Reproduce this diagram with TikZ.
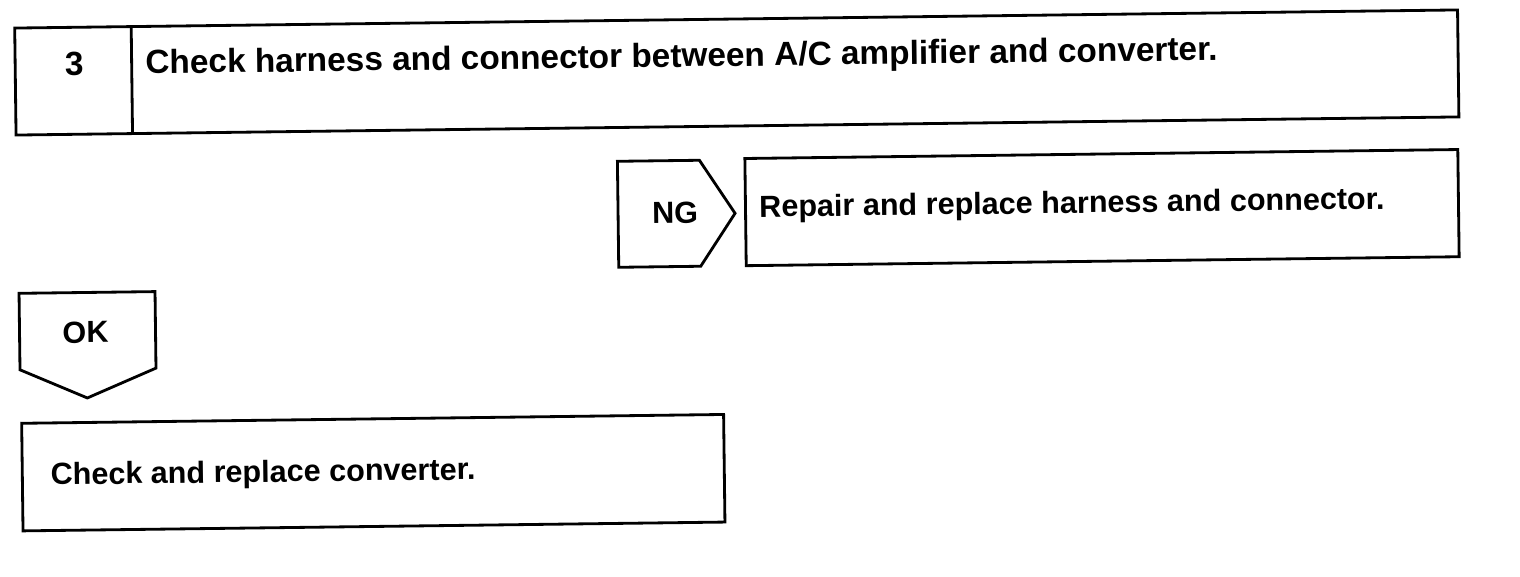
\documentclass[tikz,border=0pt]{standalone}
\usepackage{fontspec}
\setmainfont{Liberation Sans}
\begin{document}
\begin{tikzpicture}[x=0.02cm,y=-0.02cm,
  outline/.style={draw=black,line width=1.6pt,line join=miter},
  title/.style={font=\fontsize{19}{22}\selectfont\bfseries,inner sep=0pt,transform shape},
  label/.style={font=\fontsize{17.4}{20}\selectfont\bfseries,inner sep=0pt,transform shape}]
\useasboundingbox[fill=white] (0,0) rectangle (1520,576);
\begin{scope}[rotate around={0.72:(760,288)}]
  % step box
  \draw[outline] (18,18.7) rectangle (1461,125.7);
  \draw[outline] (134.5,18.7) -- (134.5,125.7);
  \node[title,anchor=base] (num) at (77,67) {3};
  \node[title,anchor=base west] (t1) at (148,66) {Check harness and connector between A/C amplifier and converter.};
  % NG branch
  \draw[outline] (619,159.5) -- (701,159.5) -- (736,213) -- (701,265.5) -- (619,265.5) -- cycle;
  \node[label,anchor=base] (ng) at (676,222) {NG};
  \draw[outline] (746.5,158.3) rectangle (1459.5,265.5);
  \node[label,anchor=base west] (t2) at (760,217) {Repair and replace harness and connector.};
  % OK branch
  \draw[outline] (19,284) -- (155,284) -- (155,360.5) -- (86,389.5) -- (19,360.5) -- cycle;
  \node[label,anchor=base] (ok) at (85,334.5) {OK};
  \draw[outline] (20,414) rectangle (722,521.6);
  \node[label,anchor=base west] (t3) at (48,476) {Check and replace converter.};
\end{scope}
\end{tikzpicture}
\end{document}
